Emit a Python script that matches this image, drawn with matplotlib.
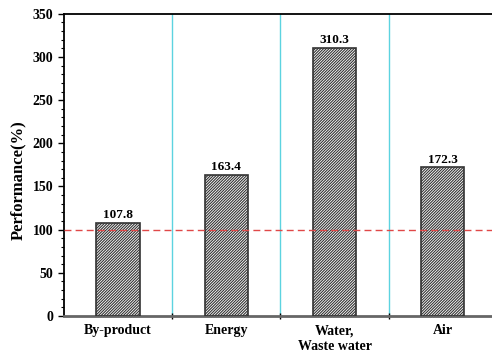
import matplotlib
matplotlib.use("Agg")
import matplotlib.pyplot as plt
from matplotlib.ticker import MultipleLocator, FixedLocator

categories = ["By-product", "Energy", "Water,\nWaste water", "Air"]
values = [107.8, 163.4, 310.3, 172.3]
reference = 100

plt.rcParams['font.family'] = ['Liberation Serif', 'DejaVu Serif']
plt.rcParams['font.weight'] = 'bold'
plt.rcParams['hatch.linewidth'] = 0.8

fig = plt.figure(figsize=(4.92, 3.55), dpi=100)
ax = fig.add_axes([0.130, 0.110, 0.880, 0.851])

x = list(range(len(categories)))
ax.bar(x, values, width=0.4, color='white', edgecolor='#333333',
       hatch='/' * 12, linewidth=1.2, zorder=3)
for xi, v in zip(x, values):
    ax.text(xi, v + 2, f"{v:.1f}", ha='center', va='bottom', fontsize=9.5,
            fontweight='bold', zorder=4)

for sep in [0.5, 1.5, 2.5]:
    ax.axvline(sep, color='#5cd3e0', linewidth=1.0, zorder=1)
ax.axhline(reference, color='#e04848', linestyle=(0, (5, 3)), linewidth=1.0, zorder=5)

ax.set_xlim(-0.5, 3.5)
ax.set_ylim(0, 350)
ax.yaxis.set_major_locator(MultipleLocator(50))
ax.yaxis.set_minor_locator(MultipleLocator(10))
ax.set_xticks(x)
ax.set_xticklabels(categories, fontsize=10, fontweight='bold', linespacing=1.25)
ax.xaxis.set_minor_locator(FixedLocator([0.5, 1.5, 2.5]))
ax.tick_params(axis='x', which='major', length=0, pad=6)
ax.tick_params(axis='x', which='minor', length=4, width=1.0, direction='inout')
ax.tick_params(axis='y', which='major', length=4, width=1.0, labelsize=10, direction='out')
ax.tick_params(axis='y', which='minor', length=2, width=0.8, direction='out')
for lbl in ax.get_yticklabels():
    lbl.set_fontweight('bold')

ax.set_ylabel("Performance(%)", fontsize=12, fontweight='bold')
ax.yaxis.set_label_coords(-0.088, 0.45)

ax.spines['right'].set_visible(False)
ax.spines['top'].set_linewidth(1.3)
ax.spines['left'].set_linewidth(1.3)
ax.spines['bottom'].set_color('#666666')
ax.spines['bottom'].set_linewidth(2.0)

fig.savefig("out.png", dpi=100)
